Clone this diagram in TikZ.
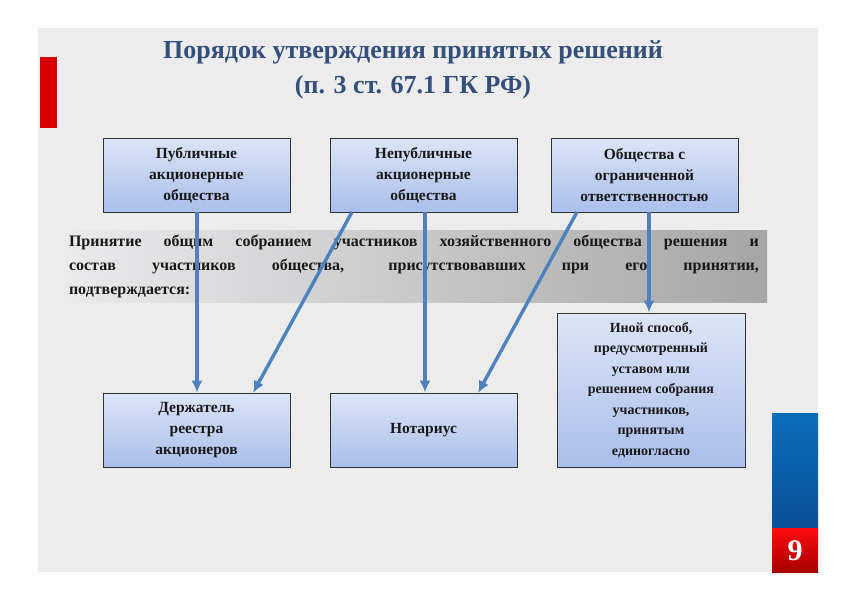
\documentclass[tikz,border=0pt]{standalone}
\usepackage{fontspec}
\setmainfont{Liberation Serif}
\usetikzlibrary{arrows.meta}
\definecolor{boxtop}{HTML}{DCE5F7}
\definecolor{boxbot}{HTML}{A9BEEA}
\definecolor{arrc}{HTML}{4F81BD}
\definecolor{titc}{HTML}{34507A}
\begin{document}
\begin{tikzpicture}[x=1pt,y=-1pt,
  box/.style={draw=black!80,line width=0.8pt,top color=boxtop,bottom color=boxbot,align=center,font=\bfseries\fontsize{15.5}{21}\selectfont,text=black!90,inner sep=2pt},
  arr/.style={draw=arrc,line width=3.4pt,-{Latex[length=12pt,width=11pt]}}]
\useasboundingbox (0,0) rectangle (842,595);
\fill[white] (0,0) rectangle (842,595);
\fill[gray!15] (38,28) rectangle (818,572);
\fill[red!85!black] (40,57) rectangle (57,128);
\shade[top color={rgb,255:red,10;green,110;blue,190},bottom color={rgb,255:red,10;green,80;blue,150}] (772,413) rectangle (818,528);
\shade[top color=red!95,bottom color=red!65!black] (772,528) rectangle (818,572);
\node[text=white,font=\bfseries\fontsize{30}{30}\selectfont] (num) at (795,551) {9};
\node[align=center,text=titc,font=\bfseries\fontsize{26}{35}\selectfont] (title) at (413,70) {Порядок утверждения принятых решений\\(п. 3 ст. 67.1 ГК РФ)};
\node[box,minimum width=187pt,minimum height=74pt] (a) at (196.5,175) {Публичные\\акционерные\\общества};
\node[box,minimum width=187pt,minimum height=74pt] (b) at (423.5,175) {Непубличные\\акционерные\\общества};
\node[box,minimum width=187pt,minimum height=74pt] (c) at (644.5,175) {Общества с\\ограниченной\\ответственностью};
\shade[left color=blue!8!gray!15,right color=gray!70] (65,230) rectangle (767,302);
\node[text width=690pt,align=justify,font=\bfseries\fontsize{16}{24}\selectfont,text=black!90,inner sep=0pt] (band) at (414,266) {Принятие общим собранием участников хозяйственного общества решения и\linebreak состав участников общества, присутствовавших при его принятии,\linebreak подтверждается:};
\node[box,minimum width=187pt,minimum height=74pt] (d) at (196.5,430) {Держатель\\реестра\\акционеров};
\node[box,minimum width=187pt,minimum height=74pt] (e) at (423.5,430) {Нотариус};
\node[box,minimum width=188pt,minimum height=154pt,font=\bfseries\fontsize{14}{20.5}\selectfont] (f) at (651,390) {Иной способ,\\предусмотренный\\уставом или\\решением собрания\\участников,\\принятым\\единогласно};
\draw[arr] (197,212) -- (d.north -| 197,0);
\draw[arr] (352,212) -- (253,393);
\draw[arr] (425,212) -- (e.north -| 425,0);
\draw[arr] (577,212) -- (478,393);
\draw[arr] (649,212) -- (f.north -| 649,0);
\end{tikzpicture}
\end{document}
